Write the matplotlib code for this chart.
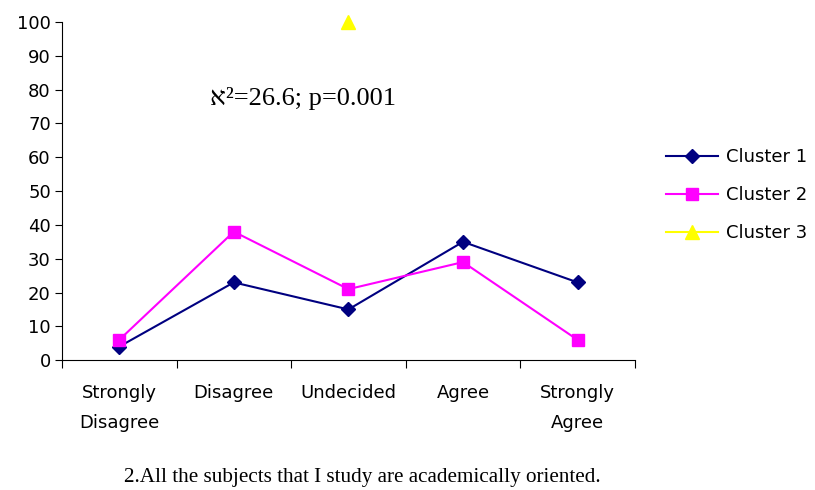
import matplotlib.pyplot as plt
import numpy as np

### DATA ###

categories = ["Strongly\nDisagree", "Disagree", "Undecided", "Agree", "Strongly\nAgree"]
cluster1 = [4, 23, 15, 35, 23]
cluster2 = [6, 38, 21, 29, 6]
cluster3 = [np.nan, np.nan, 100, np.nan, np.nan] # only one point shows on the chart
series_names = ["Cluster 1", "Cluster 2", "Cluster 3"]
yticks = list(range(0, 101, 10))

note = "\u05d0\u00b2=26.6; p=0.001"
caption = "2.All the subjects that I study are academically oriented."

### PLOT ###

plt.rcParams["font.family"] = ["DejaVu Sans"]
serif = ["Liberation Serif", "DejaVu Serif"]

fig = plt.figure(figsize = (8.15, 4.9), dpi = 100)
ax = fig.add_axes([0.076, 0.265, 0.703, 0.69])

x = np.arange(len(categories))
ax.plot(x, cluster1, color = "#000080", marker = "D", markersize = 7.5, lw = 1.5, label = series_names[0])
ax.plot(x, cluster2, color = "#FF00FF", marker = "s", markersize = 9, lw = 1.5, label = series_names[1])
ax.plot(x, cluster3, color = "#FFFF00", marker = "^", markersize = 10, lw = 1.5, label = series_names[2], clip_on = False)

ax.set_xlim(-0.5, len(categories) - 0.5)
ax.set_ylim(0, 100)

# boundaries get tick marks, centres get the labels
ax.set_xticks(np.arange(len(categories) + 1) - 0.5)
ax.set_xticklabels([])
ax.set_xticks(x, minor = True)
ax.set_xticklabels(categories, minor = True, fontsize = 13, linespacing = 1.85)
ax.tick_params(axis = "x", which = "major", length = 6, direction = "out")
ax.tick_params(axis = "x", which = "minor", length = 0, pad = 17)

ax.set_yticks(yticks)
ax.tick_params(axis = "y", length = 5, direction = "out", labelsize = 13, pad = 3)

for side in ["top", "right"]:
    ax.spines[side].set_visible(False)

ax.text(0.79, 77.3, note, fontsize = 19, va = "center", family = serif)

ax.legend(loc = "center left", bbox_to_anchor = (1.026, 0.488), frameon = False,
          fontsize = 13, handlelength = 2.9, handletextpad = 0.4, labelspacing = 1.1)

fig.text(0.445, 0.017, caption, ha = "center", fontsize = 15.2, family = serif)

fig.savefig("out.png", dpi = 100)
